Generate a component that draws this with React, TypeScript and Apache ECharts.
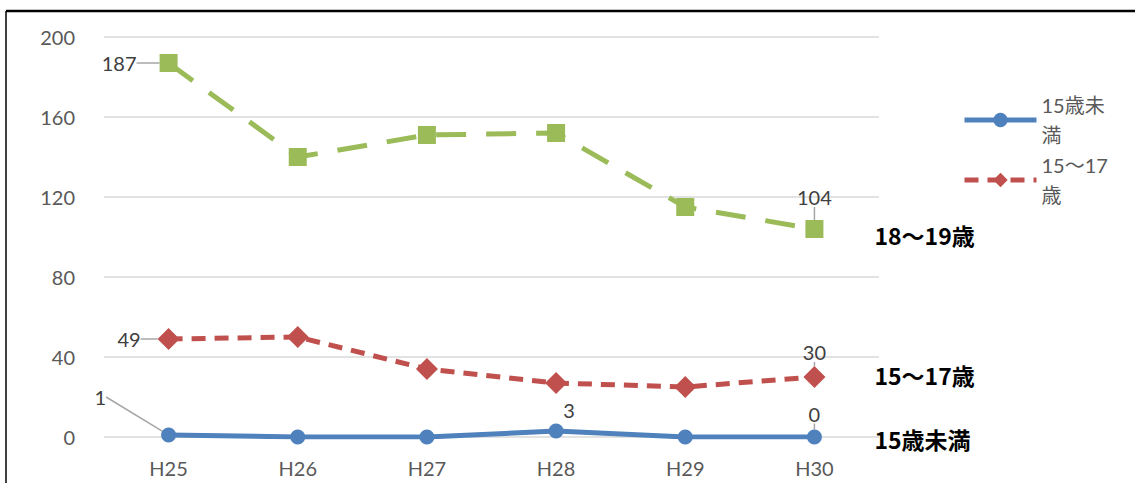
import React, { useEffect, useRef } from "react";
import * as echarts from "echarts";

const categories = ["H25", "H26", "H27", "H28", "H29", "H30"];
const under15 = [1, 0, 0, 3, 0, 0];
const age15to17 = [49, 50, 34, 27, 25, 30];
const age18to19 = [187, 140, 151, 152, 115, 104];
const seriesNames = ["15歳未満", "15〜17歳", "18〜19歳"];
const yTicks = { min: 0, max: 200, interval: 40 };

const FONT = "Lato, 'Noto Sans CJK JP', sans-serif";
const CJK = "'Noto Sans CJK JP', Lato, sans-serif";

export default function App() {
  const ref = useRef<HTMLDivElement>(null);
  useEffect(() => {
    if (!ref.current) return;
    const chart = echarts.init(ref.current, undefined, { renderer: "svg" });
    const labelBase = { color: "#404040", fontSize: 20, fontFamily: FONT };
    const mk = (vals: number[], shown: { [k: number]: any }, noLine: number[] = []) =>
      vals.map((v, i) =>
        shown[i]
          ? {
              value: v,
              label: { show: true, ...labelBase, ...shown[i] },
              ...(noLine.includes(i) ? { labelLine: { show: false } } : {}),
            }
          : { value: v }
      );
    const endLabel = {
      show: true,
      formatter: "{a}",
      color: "#000",
      fontWeight: "bold",
      fontSize: 23,
      fontFamily: CJK,
      distance: 60,
    };
    chart.setOption({
      animation: false,
      grid: { left: 104, right: 256, top: 37, bottom: 46 },
      legend: {
        data: [seriesNames[0], seriesNames[1]],
        orient: "vertical",
        left: 957,
        top: 85,
        itemWidth: 72,
        itemHeight: 18,
        itemGap: 0,
        lineStyle: { width: 5 },
        textStyle: {
          color: "#595959",
          fontSize: 20,
          fontFamily: FONT,
          width: 80,
          overflow: "break",
          lineHeight: 30,
        },
      },
      xAxis: {
        type: "category",
        data: categories,
        boundaryGap: true,
        axisLine: { show: false },
        axisTick: { show: false },
        axisLabel: { color: "#595959", fontSize: 20, fontFamily: FONT, margin: 21 },
      },
      yAxis: {
        type: "value",
        min: yTicks.min,
        max: yTicks.max,
        interval: yTicks.interval,
        axisLabel: { color: "#595959", fontSize: 20, fontFamily: FONT, margin: 29 },
        splitLine: { lineStyle: { color: "#d9d9d9", width: 1.5 } },
      },
      series: [
        {
          name: seriesNames[0],
          type: "line",
          data: mk(
            under15,
            {
              0: { position: "left", distance: 5 },
              3: { position: "top", distance: 4 },
              5: { position: "top", distance: 6 },
            },
            [3]
          ),
          symbol: "circle",
          symbolSize: 15,
          itemStyle: { color: "#4F81BD" },
          lineStyle: { color: "#4F81BD", width: 5 },
          labelLayout: (p: any) =>
            p.dataIndex === 0 ? { dx: -50, dy: -38 } : p.dataIndex === 3 ? { dx: 13 } : {},
          labelLine: { show: true, lineStyle: { color: "#a6a6a6", width: 1.5 } },
          endLabel: { ...endLabel, offset: [0, 2] },
          z: 3,
        },
        {
          name: seriesNames[1],
          type: "line",
          data: mk(age15to17, {
            0: { position: "left", distance: 5 },
            5: { position: "top", distance: 4 },
          }),
          symbol: "diamond",
          symbolSize: 22,
          itemStyle: { color: "#C0504D" },
          lineStyle: { color: "#C0504D", width: 5, type: [14, 9] },
          labelLayout: (p: any) => (p.dataIndex === 0 ? { dx: -12 } : {}),
          labelLine: { show: true, lineStyle: { color: "#a6a6a6", width: 1.5 } },
          endLabel: { ...endLabel, offset: [0, -2] },
          z: 2,
        },
        {
          name: seriesNames[2],
          type: "line",
          data: mk(age18to19, {
            0: { position: "left", distance: 5 },
            5: { position: "top", distance: 13 },
          }),
          symbol: "rect",
          symbolSize: 18,
          itemStyle: { color: "#9BBB59" },
          lineStyle: { color: "#9BBB59", width: 5, type: [30, 20] },
          labelLayout: (p: any) => (p.dataIndex === 0 ? { dx: -18 } : {}),
          labelLine: { show: true, lineStyle: { color: "#a6a6a6", width: 1.5 } },
          endLabel: { ...endLabel, offset: [0, 6] },
          z: 1,
        },
      ],
      graphic: [
        { type: "line", shape: { x1: 6, y1: 11, x2: 1135, y2: 11 }, style: { stroke: "#000", lineWidth: 2.5 } },
        { type: "line", shape: { x1: 6, y1: 11, x2: 6, y2: 483 }, style: { stroke: "#000", lineWidth: 1.5 } },
      ],
    });
    return () => chart.dispose();
  }, []);
  return (
    <div
      ref={ref}
      style={{ position: "fixed", left: 0, top: 0, width: 1135, height: 483, background: "#fff" }}
    />
  );
}
